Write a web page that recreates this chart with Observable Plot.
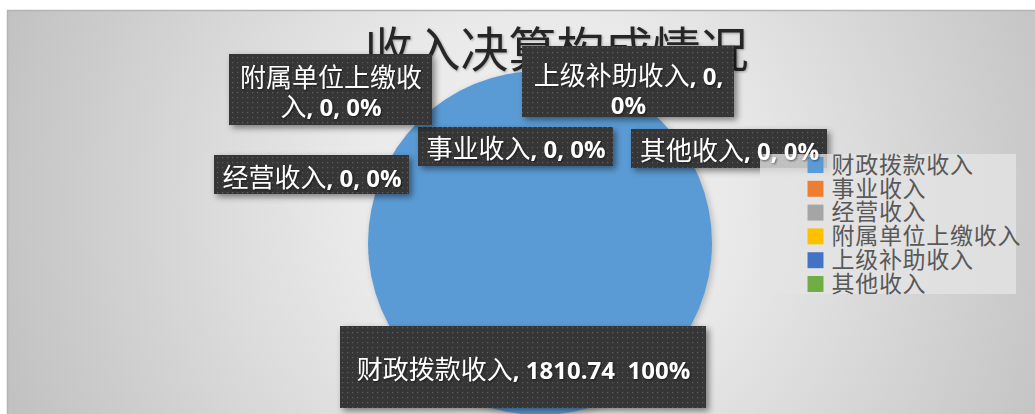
<!DOCTYPE html>
<html>
<head>
<meta charset="utf-8">
<script src="https://cdn.jsdelivr.net/npm/d3@7"></script>
<script src="https://cdn.jsdelivr.net/npm/@observablehq/plot@0.6"></script>
<style>
  html, body { margin: 0; padding: 0; background: #fff; }
  #chart svg { display: block; }
  g.pie path { filter: drop-shadow(2px 2px 3px rgba(0,0,0,0.22)); }
  g[aria-description="label-box"] rect { filter: drop-shadow(3px 3px 3px rgba(0,0,0,0.45)); }
  g[aria-description="label-text"] text { white-space: pre; filter: drop-shadow(1px 1px 1px rgba(0,0,0,0.5)); }
  g[aria-description="title"] text { filter: drop-shadow(1px 1px 1px rgba(0,0,0,0.3)); }
</style>
</head>
<body>
<div id="chart"></div>
<script>
// ---------- data ----------
const categories = ["财政拨款收入", "事业收入", "经营收入", "附属单位上缴收入", "上级补助收入", "其他收入"];
const values = [1810.74, 0, 0, 0, 0, 0];
const colors = ["#5B9BD5", "#ED7D31", "#A5A5A5", "#FFC000", "#4472C4", "#70AD47"];
const labelSeparators = ["  ", ", ", ", ", ", ", ", ", ", "];
const title = "收入决算构成情况";

// ---------- layout (pixels) ----------
const W = 1035, H = 414;
const plotLeft = 7, plotTop = 10;
const pie = {cx: 540, cy: 243, r: 172};
const labelLayout = [
  {box: [340, 706, 326, 408], dy: 2.7},
  {box: [418, 613, 127, 166], dy: 1.7},
  {box: [214, 409, 155, 194], dy: 3.2},
  {box: [229, 432, 54, 125], dy: 2.1, brk: 7},
  {box: [522, 734, 46, 117], dy: 8.0, brk: 10},
  {box: [631, 827, 129, 168], dy: 2.2}
];
const legend = {swatchX: 815, y0: 164.5, step: 23.8, textX: 831, box: [760, 1016, 154, 294]};
const titlePos = {x: 556, y: 51.4};

// ---------- derived ----------
const total = d3.sum(values);
const pctFmt = d3.format(".0%");
const rows = categories.map((name, i) => ({name, value: values[i], pct: total ? values[i] / total : 0, i}));
const arcs = d3.pie().sort(null).value(d => d.value)(rows);

const labelRows = rows.map((d, i) => {
  const L = labelLayout[i];
  let text = `${d.name}, ${+d.value.toFixed(2)}${labelSeparators[i]}${pctFmt(d.pct)}`;
  if (L.brk) text = text.slice(0, L.brk) + "\n" + text.slice(L.brk).trimStart();
  return {
    ...d, text,
    x1: L.box[0], x2: L.box[1], y1: L.box[2], y2: L.box[3],
    tx: (L.box[0] + L.box[1]) / 2,
    ty: (L.box[2] + L.box[3]) / 2 + L.dy
  };
});

const ns = "http://www.w3.org/2000/svg";
const defsMark = () => {
  const g = document.createElementNS(ns, "g");
  g.innerHTML = `
    <defs>
      <radialGradient id="bg" gradientUnits="userSpaceOnUse" cx="540" cy="200" r="560">
        <stop offset="0" stop-color="#f3f3f3"/>
        <stop offset="0.35" stop-color="#e9e9e9"/>
        <stop offset="1" stop-color="#c2c2c2"/>
      </radialGradient>
      <pattern id="dots" width="5" height="5" patternUnits="userSpaceOnUse">
        <rect width="5" height="5" fill="#363636"/>
        <rect x="2" y="2" width="1.2" height="1.2" fill="#5e5e5e"/>
      </pattern>
    </defs>`;
  return g;
};

// pie slices drawn with d3.pie angles through Plot's x, y and color scales
function pieMark(index, scales) {
  const sx = scales && scales.x ? scales.x : (v => v);
  const sy = scales && scales.y ? scales.y : (v => v);
  const sc = scales && scales.color ? scales.color : (n => colors[categories.indexOf(n)]);
  const g = document.createElementNS(ns, "g");
  g.setAttribute("class", "pie");
  const cx = sx(pie.cx), cy = sy(pie.cy);
  const r = Math.abs(sx(pie.cx + pie.r) - cx);
  const arcGen = d3.arc().innerRadius(0).outerRadius(r);
  for (const a of arcs) {
    if (a.endAngle - a.startAngle <= 0) continue;
    const p = document.createElementNS(ns, "path");
    p.setAttribute("d", arcGen(a));
    p.setAttribute("transform", `translate(${cx},${cy})`);
    p.setAttribute("fill", sc(a.data.name));
    g.append(p);
  }
  return g;
}

const svg = Plot.plot({
  width: W,
  height: H,
  marginLeft: plotLeft,
  marginTop: plotTop,
  marginRight: 0,
  marginBottom: 0,
  x: {domain: [plotLeft, W], axis: null},
  y: {domain: [plotTop, H], reverse: true, axis: null},
  color: {domain: categories, range: colors},
  style: {background: "white", fontFamily: '"Noto Sans CJK SC", "Noto Sans", sans-serif', overflow: "hidden"},
  marks: [
    defsMark,
    Plot.frame({fill: "url(#bg)", stroke: "none"}),
    Plot.ruleY([plotTop], {stroke: "#b4b4b4", strokeWidth: 1.5}),
    Plot.ruleX([plotLeft], {stroke: "#b4b4b4", strokeWidth: 1.5}),
    pieMark,
    Plot.text([title], {x: titlePos.x, y: titlePos.y, text: d => d, fontSize: 48, fill: "#262626", ariaDescription: "title"}),
    Plot.rect(labelRows, {x1: "x1", x2: "x2", y1: "y1", y2: "y2", fill: "url(#dots)", ariaDescription: "label-box"}),
    Plot.rect([legend.box], {x1: d => d[0], x2: d => d[1], y1: d => d[2], y2: d => d[3], fill: "#e3e3e3", fillOpacity: 0.8, ariaDescription: "legend-box"}),
    Plot.dot(rows, {x: legend.swatchX, y: (d, i) => legend.y0 + i * legend.step, fill: "name", symbol: "square", r: 9, stroke: "none", ariaDescription: "legend-swatch"}),
    Plot.text(rows, {x: legend.textX, y: (d, i) => legend.y0 + 0.5 + i * legend.step, text: "name", textAnchor: "start", fontSize: 23, fill: "#595959", ariaDescription: "legend-text"}),
    Plot.text(labelRows, {x: "tx", y: "ty", text: "text", fontSize: 24, lineHeight: 1.2, fill: "white", ariaDescription: "label-text"})
  ]
});

document.getElementById("chart").append(svg);

// legend letter spacing
svg.querySelectorAll('g[aria-description="legend-text"] text').forEach(t => t.setAttribute("letter-spacing", "0.7"));

// mixed-script runs: CJK regular and larger, Latin bold
const cjkRun = /[\u2E80-\u9FFF\uF900-\uFAFF\uFF00-\uFFEF]+|[^\u2E80-\u9FFF\uF900-\uFAFF\uFF00-\uFFEF]+/g;
const cjk = /[\u2E80-\u9FFF\uF900-\uFAFF\uFF00-\uFFEF]/;
svg.querySelectorAll('g[aria-description="label-text"] text').forEach(t => {
  const spans = [...t.querySelectorAll("tspan")];
  const lines = spans.length ? spans : [t];
  lines.forEach(el => {
    const s = el.textContent;
    el.textContent = "";
    (s.match(cjkRun) || []).forEach(run => {
      const sp = document.createElementNS(ns, "tspan");
      sp.textContent = run;
      if (cjk.test(run)) {
        sp.setAttribute("font-size", "26");
        sp.setAttribute("font-weight", "normal");
        sp.setAttribute("font-family", '"Noto Sans CJK SC", sans-serif');
      } else {
        sp.setAttribute("font-size", "24");
        sp.setAttribute("font-weight", "bold");
        sp.setAttribute("font-family", '"Open Sans", "Noto Sans", sans-serif');
      }
      el.append(sp);
    });
  });
});
</script>
</body>
</html>
